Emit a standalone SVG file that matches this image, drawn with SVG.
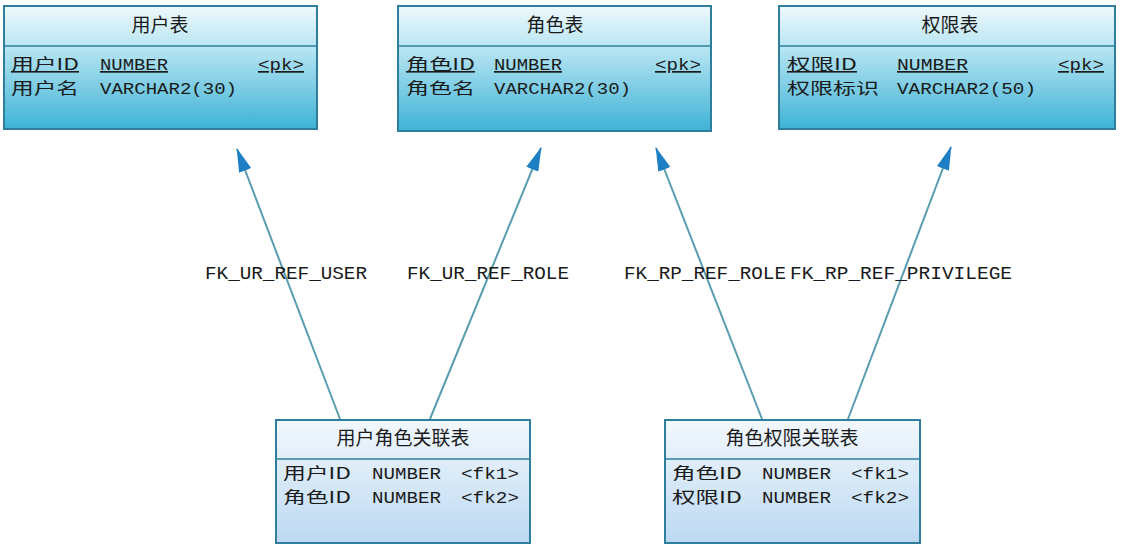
<svg xmlns="http://www.w3.org/2000/svg" width="1129" height="556" viewBox="0 0 1129 556">
<style>
.box{stroke:#2f7f9c;stroke-width:2}
.sep{stroke:#2f7f9c;stroke-width:1.5}
.t{font-family:"Noto Sans CJK SC","Liberation Sans",sans-serif;font-size:19px;fill:#1a1a1a;text-anchor:middle}
.f{font-family:"Noto Sans CJK SC","Liberation Sans",sans-serif;font-size:16px;fill:#1a1a1a}
.m{font-family:"Liberation Mono","DejaVu Sans Mono",monospace;font-size:17px;fill:#1a1a1a}
.u{text-decoration:underline}
.lbl{font-family:"Liberation Mono","DejaVu Sans Mono",monospace;font-size:18px;fill:#1a1a1a}
.con{stroke:#5a9cb0;stroke-width:2;fill:none;marker-end:url(#arr)}
</style>
<defs>
<linearGradient id="gTop" x1="0" y1="0" x2="0" y2="1">
<stop offset="0" stop-color="#eef9fc"/>
<stop offset="0.35" stop-color="#b6e4f2"/>
<stop offset="1" stop-color="#3eb3d6"/>
</linearGradient>
<linearGradient id="gBot" x1="0" y1="0" x2="0" y2="1">
<stop offset="0" stop-color="#f2f8fd"/>
<stop offset="1" stop-color="#bcd9f2"/>
</linearGradient>
<marker id="arr" viewBox="0 0 24 13" refX="23" refY="6.5" markerWidth="24" markerHeight="13" markerUnits="userSpaceOnUse" orient="auto">
<path d="M0,0 L24,6.5 L0,13 z" fill="#1f7fc4"/>
</marker>
</defs>
<rect width="1129" height="556" fill="#ffffff"/>

<g id="connectors">
<line class="con" x1="340" y1="419" x2="237" y2="149"/>
<line class="con" x1="430" y1="419" x2="541" y2="148"/>
<line class="con" x1="762" y1="419" x2="656" y2="148"/>
<line class="con" x1="848" y1="419" x2="951" y2="147"/>
<text class="lbl" x="205" y="279" textLength="162" lengthAdjust="spacingAndGlyphs">FK_UR_REF_USER</text>
<text class="lbl" x="407" y="279" textLength="162" lengthAdjust="spacingAndGlyphs">FK_UR_REF_ROLE</text>
<text class="lbl" x="624" y="279" textLength="162" lengthAdjust="spacingAndGlyphs">FK_RP_REF_ROLE</text>
<text class="lbl" x="790" y="279" textLength="222" lengthAdjust="spacingAndGlyphs">FK_RP_REF_PRIVILEGE</text>
</g>

<g id="user">
<rect class="box" x="4" y="6" width="313" height="123" fill="url(#gTop)"/>
<line class="sep" x1="4" y1="46" x2="317" y2="46"/>
<text class="t" x="160" y="32">用户表</text>
<text class="f u" x="11" y="70" textLength="68" lengthAdjust="spacingAndGlyphs">用户ID</text>
<text class="m u" x="100" y="70" textLength="68" lengthAdjust="spacingAndGlyphs">NUMBER</text>
<text class="m u" x="258" y="70" textLength="46" lengthAdjust="spacingAndGlyphs">&lt;pk&gt;</text>
<text class="f" x="11" y="94" textLength="68" lengthAdjust="spacingAndGlyphs">用户名</text>
<text class="m" x="100" y="94" textLength="137" lengthAdjust="spacingAndGlyphs">VARCHAR2(30)</text>
</g>

<g id="role">
<rect class="box" x="398" y="6" width="313" height="125" fill="url(#gTop)"/>
<line class="sep" x1="398" y1="46" x2="711" y2="46"/>
<text class="t" x="555" y="32">角色表</text>
<text class="f u" x="406" y="70" textLength="69" lengthAdjust="spacingAndGlyphs">角色ID</text>
<text class="m u" x="494" y="70" textLength="68" lengthAdjust="spacingAndGlyphs">NUMBER</text>
<text class="m u" x="655" y="70" textLength="46" lengthAdjust="spacingAndGlyphs">&lt;pk&gt;</text>
<text class="f" x="406" y="94" textLength="69" lengthAdjust="spacingAndGlyphs">角色名</text>
<text class="m" x="494" y="94" textLength="137" lengthAdjust="spacingAndGlyphs">VARCHAR2(30)</text>
</g>

<g id="privilege">
<rect class="box" x="779" y="6" width="336" height="123" fill="url(#gTop)"/>
<line class="sep" x1="779" y1="46" x2="1115" y2="46"/>
<text class="t" x="950" y="32">权限表</text>
<text class="f u" x="787" y="70" textLength="70" lengthAdjust="spacingAndGlyphs">权限ID</text>
<text class="m u" x="897" y="70" textLength="71" lengthAdjust="spacingAndGlyphs">NUMBER</text>
<text class="m u" x="1058" y="70" textLength="46" lengthAdjust="spacingAndGlyphs">&lt;pk&gt;</text>
<text class="f" x="787" y="94" textLength="92" lengthAdjust="spacingAndGlyphs">权限标识</text>
<text class="m" x="897" y="94" textLength="139" lengthAdjust="spacingAndGlyphs">VARCHAR2(50)</text>
</g>

<g id="user_role">
<rect class="box" x="276" y="420" width="254" height="123" fill="url(#gBot)"/>
<line class="sep" x1="276" y1="459" x2="530" y2="459"/>
<text class="t" x="403" y="445">用户角色关联表</text>
<text class="f" x="283" y="479" textLength="68" lengthAdjust="spacingAndGlyphs">用户ID</text>
<text class="m" x="372" y="479" textLength="69" lengthAdjust="spacingAndGlyphs">NUMBER</text>
<text class="m" x="461" y="479" textLength="58" lengthAdjust="spacingAndGlyphs">&lt;fk1&gt;</text>
<text class="f" x="283" y="503" textLength="68" lengthAdjust="spacingAndGlyphs">角色ID</text>
<text class="m" x="372" y="503" textLength="69" lengthAdjust="spacingAndGlyphs">NUMBER</text>
<text class="m" x="461" y="503" textLength="58" lengthAdjust="spacingAndGlyphs">&lt;fk2&gt;</text>
</g>

<g id="role_privilege">
<rect class="box" x="665" y="420" width="255" height="123" fill="url(#gBot)"/>
<line class="sep" x1="665" y1="459" x2="920" y2="459"/>
<text class="t" x="792" y="445">角色权限关联表</text>
<text class="f" x="672" y="479" textLength="70" lengthAdjust="spacingAndGlyphs">角色ID</text>
<text class="m" x="762" y="479" textLength="69" lengthAdjust="spacingAndGlyphs">NUMBER</text>
<text class="m" x="851" y="479" textLength="58" lengthAdjust="spacingAndGlyphs">&lt;fk1&gt;</text>
<text class="f" x="672" y="503" textLength="70" lengthAdjust="spacingAndGlyphs">权限ID</text>
<text class="m" x="762" y="503" textLength="69" lengthAdjust="spacingAndGlyphs">NUMBER</text>
<text class="m" x="851" y="503" textLength="58" lengthAdjust="spacingAndGlyphs">&lt;fk2&gt;</text>
</g>
</svg>
